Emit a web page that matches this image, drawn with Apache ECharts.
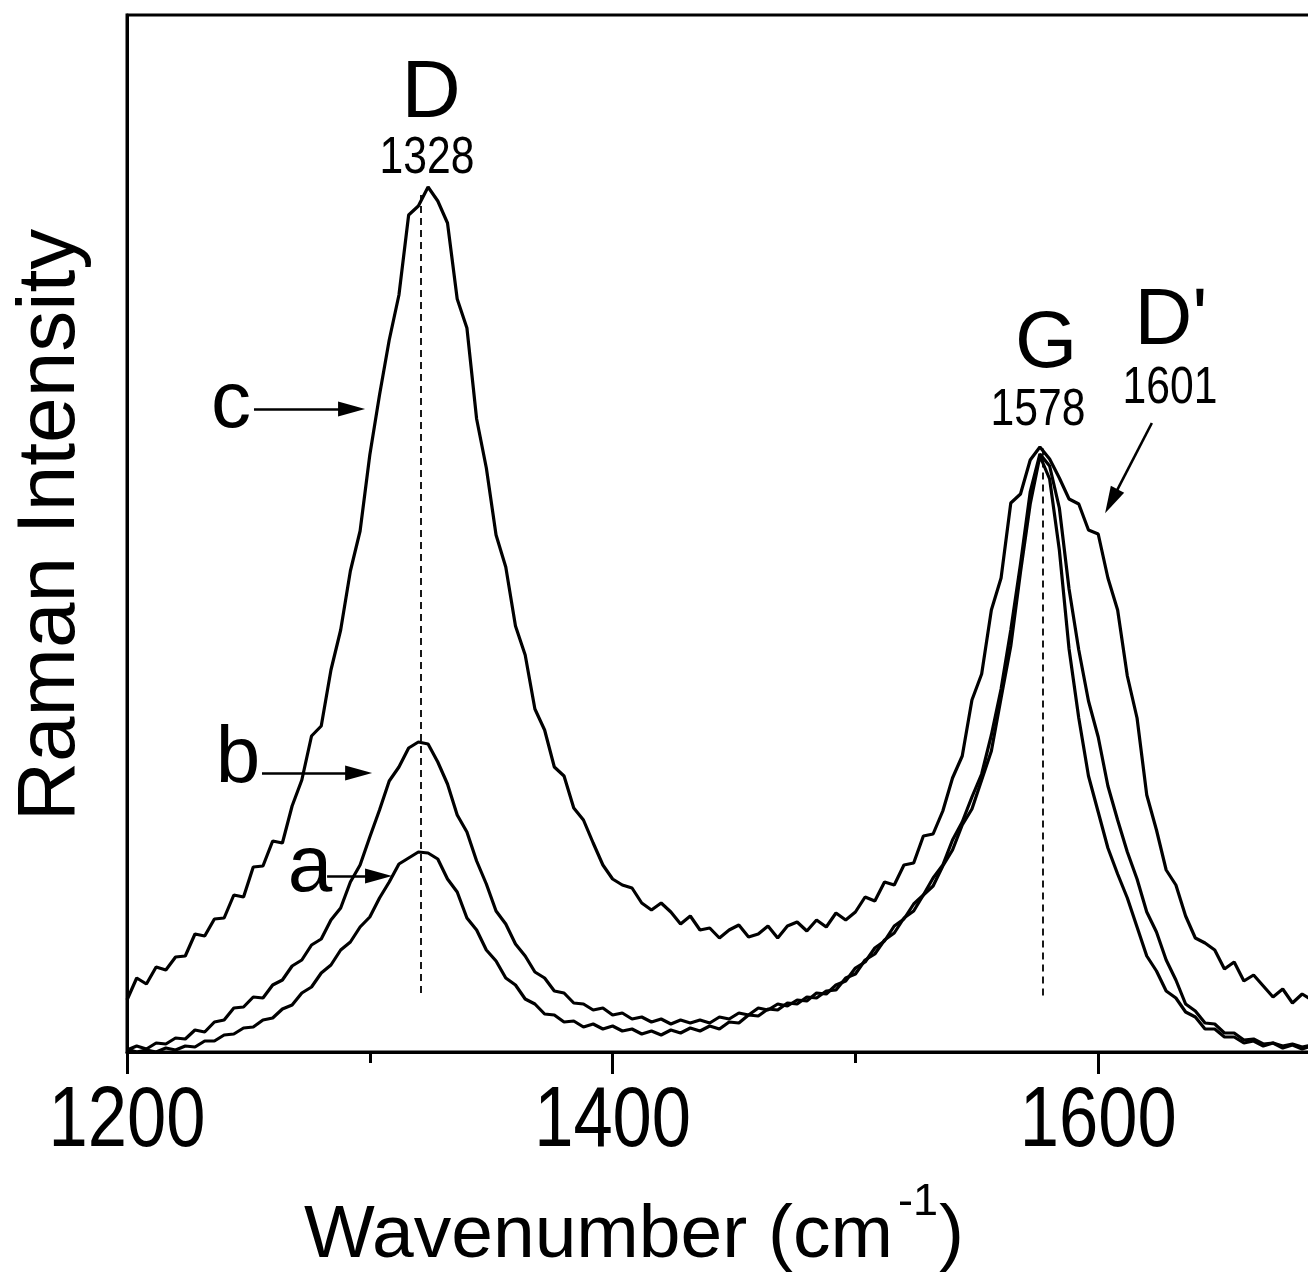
<!DOCTYPE html>
<html><head><meta charset="utf-8">
<script src="https://cdn.jsdelivr.net/npm/echarts@6/dist/echarts.min.js"></script>
<style>html,body{margin:0;padding:0;background:#fff}#chart{width:1308px;height:1281px}</style>
</head><body><div id="chart"></div>
<script>
// Wavenumber sampling grid (cm-1)
const wavenumber = [
  1200,1204,1208,1212,1216,1220,1224,1228,1232,1236,
  1240,1244,1248,1252,1256,1260,1264,1268,1272,1276,
  1280,1284,1288,1292,1296,1300,1304,1308,1312,1316,
  1320,1324,1328,1332,1336,1340,1344,1348,1352,1356,
  1360,1364,1368,1372,1376,1380,1384,1388,1392,1396,
  1400,1404,1408,1412,1416,1420,1424,1428,1432,1436,
  1440,1444,1448,1452,1456,1460,1464,1468,1472,1476,
  1480,1484,1488,1492,1496,1500,1504,1508,1512,1516,
  1520,1524,1528,1532,1536,1540,1544,1548,1552,1556,
  1560,1564,1568,1572,1576,1580,1584,1588,1592,1596,
  1600,1604,1608,1612,1616,1620,1624,1628,1632,1636,
  1640,1644,1648,1652,1656,1660,1664,1668,1672,1676,
  1680,1684,1688
];
// Raman intensity (arb. units) of spectra a, b, c
const intensityA = [
  0.3,0.0,0.2,0.0,0.4,0.2,0.6,0.5,1.1,1.1,
  1.7,1.8,2.4,2.5,3.2,3.4,4.3,4.7,5.9,6.5,
  7.9,8.7,10.2,11.0,12.5,13.5,15.4,17.0,18.8,19.4,
  20.0,19.9,19.3,17.3,16.0,13.4,12.2,10.2,9.1,7.4,
  6.7,5.3,4.8,3.8,3.7,3.0,3.1,2.5,2.8,2.3,
  2.6,2.1,2.3,1.8,2.1,1.7,2.2,1.9,2.4,2.1,
  2.6,2.3,3.0,2.9,3.7,3.6,4.3,4.2,4.9,4.8,
  5.5,5.4,6.1,6.2,7.4,7.8,9.2,9.8,11.2,11.9,
  13.4,14.1,15.7,16.6,18.6,20.2,22.7,24.3,27.2,30.1,
  35.4,40.6,48.0,54.8,59.6,57.3,50.2,40.3,33.4,27.6,
  24.0,20.4,17.8,15.4,12.5,9.6,8.1,6.1,5.4,4.0,
  3.5,2.3,2.3,1.5,1.5,0.9,1.1,0.6,0.9,0.4,
  0.7,0.3,0.6
];
const intensityB = [
  0.2,0.6,0.3,0.9,0.8,1.4,1.3,2.2,2.0,3.0,
  3.2,4.4,4.5,5.5,5.4,6.7,7.2,8.6,9.2,10.7,
  11.3,13.2,14.4,17.0,18.7,21.5,24.2,27.1,28.5,30.4,
  31.0,30.8,29.0,26.8,23.7,22.0,19.1,16.8,14.1,12.8,
  10.8,9.6,8.0,7.4,6.1,5.9,4.9,4.8,4.2,4.4,
  3.7,3.9,3.3,3.5,3.0,3.3,2.8,3.2,2.9,3.2,
  2.9,3.5,3.3,3.9,3.7,4.4,4.2,4.8,4.6,5.2,
  5.1,5.9,5.8,6.7,7.1,8.4,9.0,10.4,11.1,12.6,
  13.3,14.8,15.7,17.4,18.7,21.2,23.0,25.5,27.8,31.7,
  36.3,42.2,48.8,56.0,59.8,58.6,54.4,46.3,40.2,35.1,
  31.5,26.6,23.2,20.0,17.3,14.0,12.0,9.2,7.2,4.8,
  4.1,2.9,2.8,1.9,1.9,1.2,1.3,0.8,0.9,0.6,
  0.8,0.5,0.7
];
const intensityC = [
  5.2,7.4,6.8,8.5,8.2,9.5,9.6,11.8,11.6,13.3,
  13.4,15.7,15.5,18.5,18.6,21.1,20.9,24.6,27.2,31.6,
  32.6,38.2,42.2,48.1,52.1,59.7,65.7,71.2,75.7,83.7,
  84.6,86.5,85.1,82.9,75.3,72.4,63.3,58.4,51.7,48.5,
  42.6,39.7,34.3,32.2,28.5,27.6,24.4,23.2,20.9,18.7,
  17.3,16.7,16.4,14.9,14.2,14.9,14.0,12.8,13.6,12.2,
  12.4,11.4,12.2,12.7,11.5,11.8,12.6,11.4,12.6,13.0,
  12.1,13.2,12.5,13.9,13.2,14.0,15.5,15.1,17.0,16.7,
  18.7,18.9,21.6,21.8,24.1,27.4,29.6,35.2,37.8,44.2,
  47.4,54.9,55.8,59.2,60.5,59.3,57.4,55.3,54.8,52.2,
  51.8,47.4,44.2,37.6,33.4,25.7,22.2,18.2,16.7,13.6,
  11.4,10.9,10.2,8.3,9.0,7.1,7.7,6.6,5.5,6.3,
  4.9,5.8,5.2
];
const seriesNames = ['a', 'b', 'c'];
const xTickValues = [1200, 1400, 1600];
// Peak guide lines: [position, bottom, top]
const peakGuides = [[1321, 5.9, 85.7], [1577, 5.65, 60.7]];
const peakLetters = ['D', 'G', "D'"];
const peakNumbers = ['1328', '1578', '1601'];
// Label arrows: [fromX, fromY, toX, toY]
const arrows = [
  [1252.3, 64.3, 1292.5, 64.3],
  [1255.6, 27.9, 1295.4, 27.9],
  [1282.4, 17.6, 1303.6, 17.6],
  [1622.1, 62.9, 1605.4, 55.07]
];

const REG = '"Liberation Sans", Arial, Helvetica, sans-serif';
const NARROW_SCALE = 0.82;

function pairs(ys) { return wavenumber.map((w, i) => [w, ys[i]]); }

function txt(text, x, y, size, rot, sx) {
  return {
    type: 'text', x: x, y: y, rotation: rot || 0, scaleX: sx || 1, z: 100,
    style: { text: text, fontSize: size, fontFamily: REG, fill: '#000', align: 'center', verticalAlign: 'middle' }
  };
}

const chart = echarts.init(document.getElementById('chart'), null, { renderer: 'canvas' });
const lineStyle = { color: '#000', width: 3.2 };

const series = [intensityA, intensityB, intensityC].map((ys, k) => ({
  name: seriesNames[k], type: 'line', data: pairs(ys), showSymbol: false, symbol: 'none',
  lineStyle: lineStyle, itemStyle: { color: '#000' }, z: 3, silent: true
}));

series[2].markLine = {
  silent: true, symbol: ['none', 'none'], animation: false, label: { show: false },
  lineStyle: { color: '#000', width: 1.8, type: [7, 5] },
  data: peakGuides.map(g => [{ coord: [g[0], g[1]] }, { coord: [g[0], g[2]] }])
};
series[1].markLine = {
  silent: true, symbol: ['none', 'triangle'], symbolSize: [15, 27], animation: false, label: { show: false },
  lineStyle: { color: '#000', width: 2.6, type: 'solid' },
  data: arrows.map(a => [{ coord: [a[0], a[1]] }, { coord: [a[2], a[3]] }])
};

const option = {
  animation: false,
  backgroundColor: '#fff',
  grid: { left: 127, top: 15, width: 1214, height: 1037, outerBoundsMode: 'none', containLabel: false,
          show: true, borderColor: '#000', borderWidth: 3, backgroundColor: 'transparent' },
  xAxis: [{
    type: 'value', min: 1200, max: 1700, interval: 200, position: 'bottom',
    axisLine: { show: true, lineStyle: { color: '#000', width: 3 } },
    axisTick: { show: true, inside: false, length: 22, lineStyle: { color: '#000', width: 3 } },
    axisLabel: { show: false },
    splitLine: { show: false }
  }, {
    type: 'value', min: 1200, max: 1700, interval: 100, position: 'bottom',
    axisLine: { show: false },
    axisTick: { show: true, inside: false, length: 11, lineStyle: { color: '#000', width: 3 } },
    axisLabel: { show: false }, splitLine: { show: false }
  }],
  yAxis: {
    type: 'value', min: 0, max: 103.7,
    axisLine: { show: true, lineStyle: { color: '#000', width: 3 } },
    axisTick: { show: false }, axisLabel: { show: false }, splitLine: { show: false }
  },
  series: series
};
chart.setOption(option);

// Tick labels positioned through the axis scale (narrow face emulated with scaleX)
const tickLabelY = chart.convertToPixel({ yAxisIndex: 0 }, 0) + 70;
const tickLabels = xTickValues.map(v =>
  txt(String(v), chart.convertToPixel({ xAxisIndex: 0 }, v), tickLabelY, 86, 0, NARROW_SCALE));

chart.setOption({
  graphic: tickLabels.concat([
    txt('Raman Intensity', 51, 525, 82, Math.PI / 2),
    { type: 'text', x: 304, y: 1236, z: 100, style: { text: 'Wavenumber (cm', fontSize: 75, fontFamily: REG, fill: '#000', align: 'left', verticalAlign: 'middle' } },
    { type: 'text', x: 898, y: 1203, z: 100, style: { text: '-1', fontSize: 45, fontFamily: REG, fill: '#000', align: 'left', verticalAlign: 'middle' } },
    { type: 'text', x: 939, y: 1236, z: 100, style: { text: ')', fontSize: 75, fontFamily: REG, fill: '#000', align: 'left', verticalAlign: 'middle' } },
    txt(peakLetters[0], 431, 94, 82),
    txt(peakNumbers[0], 427, 159, 52, 0, NARROW_SCALE),
    txt(peakLetters[1], 1046, 345, 80),
    txt(peakNumbers[1], 1038, 411, 52, 0, NARROW_SCALE),
    txt(peakLetters[2], 1171, 322, 80),
    txt(peakNumbers[2], 1170, 389, 52, 0, NARROW_SCALE),
    txt('c', 231, 405, 80),
    txt('b', 238, 760, 80),
    txt('a', 310, 869, 80)
  ])
});
</script></body></html>
